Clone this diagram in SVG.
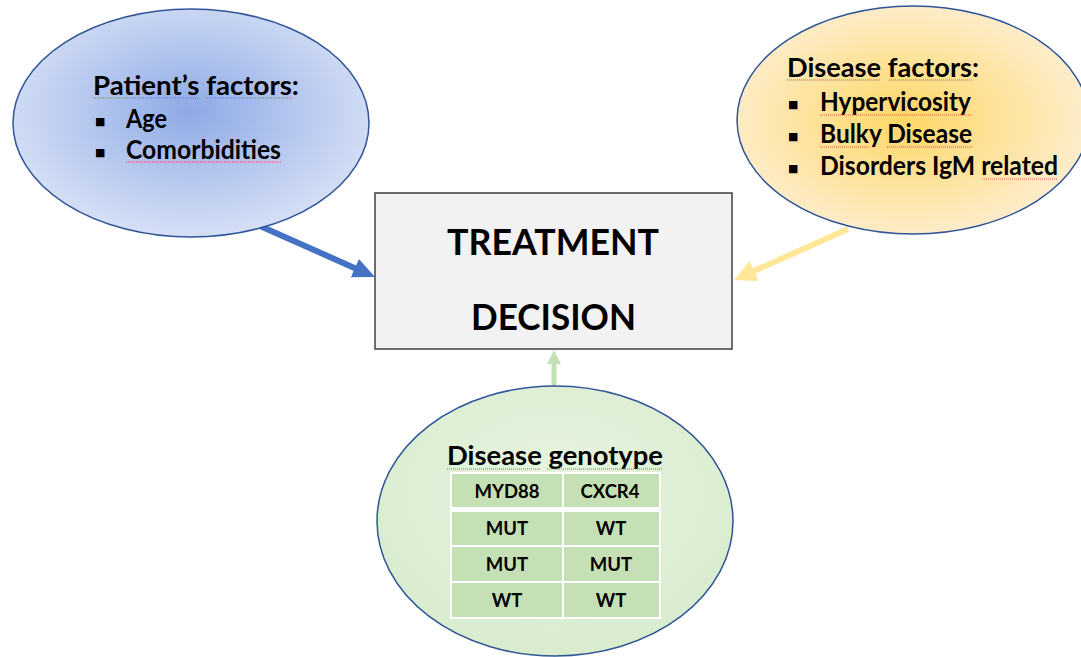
<svg xmlns="http://www.w3.org/2000/svg" width="1081" height="657" viewBox="0 0 1081 657">
<style>
.t{font-family:Lato,"Open Sans","Liberation Sans",sans-serif;font-weight:bold;fill:#000}
.f{font-size:26px}
.big{font-size:37px}
.tb{font-size:18.5px;text-anchor:middle}
.bul{font-family:"DejaVu Sans",sans-serif;font-size:11px;fill:#000}
.ell{stroke:#2f5597;stroke-width:1.5}
.sq{fill:none;stroke:#e0504c;stroke-width:1;stroke-dasharray:1 1}
.cell{fill:#c5e0b4;stroke:#fff;stroke-width:2}
</style>
<defs>
<radialGradient id="gBlue" cx="50%" cy="45%" r="55%">
<stop offset="0" stop-color="#8eaae5"/>
<stop offset="1" stop-color="#d6e0f6"/>
</radialGradient>
<radialGradient id="gOrange" cx="48%" cy="50%" r="55%">
<stop offset="0" stop-color="#fed765"/>
<stop offset="1" stop-color="#fdeed2"/>
</radialGradient>
<radialGradient id="gGreen" cx="50%" cy="40%" r="60%">
<stop offset="0" stop-color="#e9f4e2"/>
<stop offset="1" stop-color="#d8ecce"/>
</radialGradient>
<marker id="hBlue" viewBox="0 0 22 20" refX="2" refY="10" markerWidth="22" markerHeight="20" markerUnits="userSpaceOnUse" orient="auto">
<path d="M0,0 L22,10 L0,20 z" fill="#4472c4"/>
</marker>
<marker id="hOrange" viewBox="0 0 22 22" refX="2" refY="11" markerWidth="22" markerHeight="22" markerUnits="userSpaceOnUse" orient="auto">
<path d="M0,0 L22,11 L0,22 z" fill="#ffe699"/>
</marker>
<marker id="hGreen" viewBox="0 0 14 14" refX="1" refY="7" markerWidth="14" markerHeight="14" markerUnits="userSpaceOnUse" orient="auto">
<path d="M0,0 L14,7 L0,14 z" fill="#c5e0b4"/>
</marker>
</defs>
<rect width="1081" height="657" fill="#fff"/>

<g id="connectors">
<line x1="260" y1="226" x2="356.7" y2="268.9" stroke="#4472c4" stroke-width="6" marker-end="url(#hBlue)"/>
<line x1="848" y1="229" x2="752.3" y2="271.8" stroke="#ffe699" stroke-width="6" marker-end="url(#hOrange)"/>
<line x1="554" y1="388" x2="554" y2="363" stroke="#c5e0b4" stroke-width="5" marker-end="url(#hGreen)"/>
</g>

<g id="patient-factors">
<ellipse class="ell" cx="191" cy="123" rx="178" ry="114" fill="url(#gBlue)"/>
<text class="t f" x="93" y="95" textLength="206" lengthAdjust="spacingAndGlyphs">Patient’s factors:</text>
<text class="bul" x="95" y="125">■</text>
<text class="t f" x="126" y="128" textLength="41" lengthAdjust="spacingAndGlyphs">Age</text>
<text class="bul" x="95" y="156">■</text>
<text class="t f" x="126" y="159" textLength="155" lengthAdjust="spacingAndGlyphs">Comorbidities</text>
<path class="sq" d="M93,98 H198 M207,98 H292 M126,162 H282"/>
</g>

<g id="disease-factors">
<ellipse class="ell" cx="913" cy="120" rx="176" ry="114" fill="url(#gOrange)"/>
<text class="t f" x="787" y="77" textLength="192" lengthAdjust="spacingAndGlyphs">Disease factors:</text>
<text class="bul" x="788" y="108">■</text>
<text class="t f" x="820" y="111" textLength="151" lengthAdjust="spacingAndGlyphs">Hypervicosity</text>
<text class="bul" x="788" y="140">■</text>
<text class="t f" x="820" y="143" textLength="152" lengthAdjust="spacingAndGlyphs">Bulky Disease</text>
<text class="bul" x="788" y="172">■</text>
<text class="t f" x="820" y="175" textLength="238" lengthAdjust="spacingAndGlyphs">Disorders IgM related</text>
<path class="sq" d="M787,80 H880 M889,80 H973 M820,115 H971 M820,147 H870 M887,147 H973 M982,179 H1058"/>
</g>

<g id="treatment-decision">
<rect x="375" y="193" width="357" height="156" fill="#f2f2f2" stroke="#404040" stroke-width="1.5"/>
<text class="t big" x="447" y="255" textLength="212" lengthAdjust="spacingAndGlyphs">TREATMENT</text>
<text class="t big" x="471" y="330" textLength="165" lengthAdjust="spacingAndGlyphs">DECISION</text>
</g>

<g id="disease-genotype">
<ellipse class="ell" cx="555" cy="521" rx="178" ry="135" fill="url(#gGreen)"/>
<text class="t" style="font-size:26.5px" x="447" y="465" textLength="216" lengthAdjust="spacingAndGlyphs">Disease genotype</text>
<path class="sq" d="M447,469 H540 M547,469 H662"/>
<rect x="451" y="473" width="209" height="145" fill="#fff"/>
<rect class="cell" x="451" y="473" width="112" height="35"/>
<rect class="cell" x="563" y="473" width="97" height="35"/>
<rect class="cell" x="451" y="511" width="112" height="35"/>
<rect class="cell" x="563" y="511" width="97" height="35"/>
<rect class="cell" x="451" y="546" width="112" height="36"/>
<rect class="cell" x="563" y="546" width="97" height="36"/>
<rect class="cell" x="451" y="582" width="112" height="36"/>
<rect class="cell" x="563" y="582" width="97" height="36"/>
<line x1="451" y1="509.5" x2="660" y2="509.5" stroke="#fff" stroke-width="3"/>
<text class="t tb" x="507" y="498">MYD88</text>
<text class="t tb" x="610" y="498">CXCR4</text>
<text class="t tb" x="507" y="535">MUT</text>
<text class="t tb" x="611" y="535">WT</text>
<text class="t tb" x="507" y="571">MUT</text>
<text class="t tb" x="611" y="571">MUT</text>
<text class="t tb" x="507" y="607">WT</text>
<text class="t tb" x="611" y="607">WT</text>
</g>
</svg>
